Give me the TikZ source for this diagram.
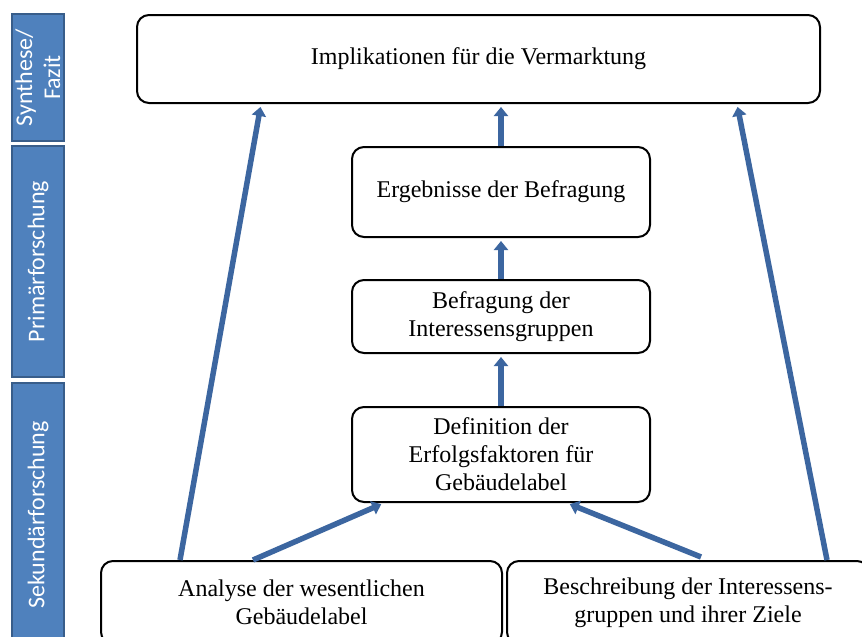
\documentclass[tikz,border=0pt]{standalone}
\usepackage{fontspec}
\setmainfont{Liberation Serif}
\newfontfamily\sidefont{Carlito}
\usetikzlibrary{arrows.meta,calc}
\definecolor{sideblue}{RGB}{79,129,189}
\definecolor{sideedge}{RGB}{56,93,138}
\definecolor{arrblue}{RGB}{60,102,160}
\begin{document}
\begin{tikzpicture}[x=1pt,y=-1pt,
  box/.style={draw=black, line width=2pt, rounded corners=12pt, fill=white,
    align=center, font=\fontsize{24}{28}\selectfont, inner sep=0pt},
  side/.style={draw=sideedge, line width=1.5pt, fill=sideblue, text=white,
    font=\sidefont\fontsize{24}{28}\selectfont, align=center, rotate=90,
    inner sep=0pt, minimum height=52pt},
  flow/.style={draw=arrblue, line width=5.5pt,
    -{Triangle[width=14pt,length=9pt]}, shorten >=3pt}]
\useasboundingbox (0,0) rectangle (862,637);
\clip (0,0) rectangle (862,637);
\fill[white] (0,0) rectangle (862,637);

% sidebars
\node[side, minimum width=127pt] (syn) at (38,77.5) {Synthese/\\Fazit};
\node[side, minimum width=231pt] (prim) at (38,261.5) {Primärforschung};
\node[side, minimum width=264pt] (sek) at (38,515) {Sekundärforschung};

% boxes
\node[box, minimum width=683pt, minimum height=88pt] (impl) at (478.5,59)
  {Implikationen für die Vermarktung};
\node[box, minimum width=298pt, minimum height=90pt] (erg) at (501,192)
  {Ergebnisse der Befragung};
\node[box, minimum width=298pt, minimum height=73pt] (bef) at (501,316.5)
  {Befragung der\\Interessensgruppen};
\node[box, minimum width=298pt, minimum height=95pt] (def) at (501,454.5)
  {Definition der\\Erfolgsfaktoren für\\Gebäudelabel};
\node[box, minimum width=401pt, minimum height=83pt] (bl) at (301.5,602.5)
  {Analyse der wesentlichen\\Gebäudelabel};
\node[box, minimum width=362pt, minimum height=83pt] (br) at (688,602.5)
  {Beschreibung der Interessens-\\gruppen und ihrer Ziele};

% arrows
\draw[flow] (erg.north) -- (erg.north |- impl.south);
\draw[flow] (bef.north) -- (erg.south);
\draw[flow] (def.north) -- (bef.south);
\draw[flow] ($(bl.north west)+(80,0)$) -- ($(impl.south west)+(125,0)$);
\draw[flow] ($(br.north west)+(321,0)$) -- ($(impl.south east)+(-84,0)$);
\draw[flow] ($(bl.north west)+(153,0)$) -- ($(def.south west)+(33,0)$);
\draw[flow] ($(br.north west)+(195,-3)$) -- ($(def.south west)+(216,0)$);
\end{tikzpicture}
\end{document}
